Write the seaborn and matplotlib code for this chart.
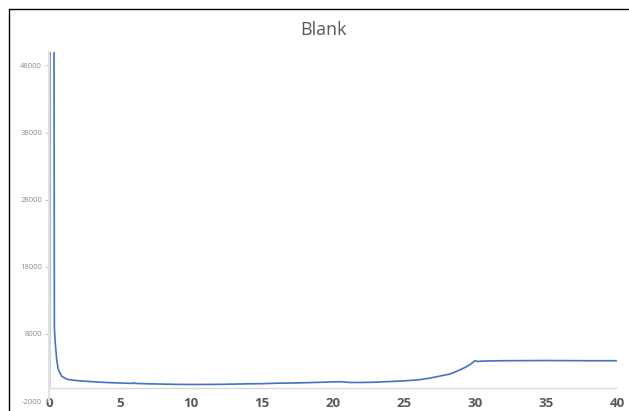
import matplotlib
matplotlib.use("Agg")
import matplotlib.pyplot as plt
import seaborn as sns
import pandas as pd
from matplotlib.lines import Line2D

# ---- data ----
time_min = [0.0, 0.03, 0.07, 0.35, 0.38, 0.42, 0.54, 0.65, 0.89, 1.25, 1.7, 2.2,
            3.0, 4.0, 5.0, 5.9, 6.0, 6.1, 7.0, 8.0, 9.0, 10.0, 11.0, 12.0, 13.0,
            14.0, 15.0, 16.0, 17.0, 18.0, 19.0, 20.0, 20.5, 21.2, 22.0, 23.0,
            24.0, 25.0, 26.0, 26.8, 27.5, 28.2, 28.8, 29.3, 29.7, 30.0, 30.2,
            30.5, 32.0, 35.0, 38.0, 40.0]
signal = [0, 0, 60000, 60000, 9000, 7200, 4200, 2700, 1700, 1250, 1100, 1000,
          880, 760, 680, 620, 720, 620, 560, 520, 480, 460, 470, 480, 520,
          560, 580, 650, 680, 720, 780, 850, 880, 760, 760, 800,
          900, 1000, 1150, 1400, 1700, 2000, 2500, 3000, 3500, 4000, 3880,
          3950, 4000, 4030, 4000, 4000]
y_ticks = [-2000, 8000, 18000, 28000, 38000, 48000]
x_ticks = [0, 5, 10, 15, 20, 25, 30, 35, 40]
title = "Blank"

df = pd.DataFrame({"t": time_min, "v": signal})

sns.set_theme(style="white")
plt.rcParams["font.family"] = ["Open Sans", "DejaVu Sans"]

fig = plt.figure(figsize=(6.29, 4.11), dpi=100)
ax = fig.add_axes([49/629, 1 - 401/411, (617 - 49)/629, (401 - 52)/411])

sns.lineplot(data=df, x="t", y="v", ax=ax, estimator=None, sort=False,
             color="#4472C4", linewidth=1.2)

ax.set_xlim(0, 40)
ax.set_ylim(-2000, 50000)
ax.set_xticks(x_ticks)
ax.set_xticklabels([str(v) for v in x_ticks], fontsize=9.5, fontweight="bold",
                   color="#595959")
ax.set_yticks(y_ticks)
ax.set_yticklabels([str(v) for v in y_ticks], fontsize=5.5, color="#8c8c8c")
ax.tick_params(axis="x", length=0, pad=-3)
ax.tick_params(axis="y", length=3, width=0.6, color="#bfbfbf", pad=2, left=True)
ax.set_xlabel("")
ax.set_ylabel("")
for s in ["top", "right", "bottom"]:
    ax.spines[s].set_visible(False)
ax.spines["left"].set_color("#e0e0e0")
ax.spines["left"].set_linewidth(1.5)
ax.axhline(0, color="#d9d9d9", linewidth=1.0, zorder=0)

fig.text(323/629, 1 - 30/411, title, ha="center", va="center",
         fontsize=13, color="#595959")

# figure frame (top and left edges)
fig.add_artist(Line2D([9/629, 628/629], [1 - 9/411, 1 - 9/411],
                      color="black", linewidth=1.0, transform=fig.transFigure))
fig.add_artist(Line2D([9/629, 9/629], [1 - 9/411, 0],
                      color="black", linewidth=1.0, transform=fig.transFigure))

fig.savefig("out.png", dpi=100)
